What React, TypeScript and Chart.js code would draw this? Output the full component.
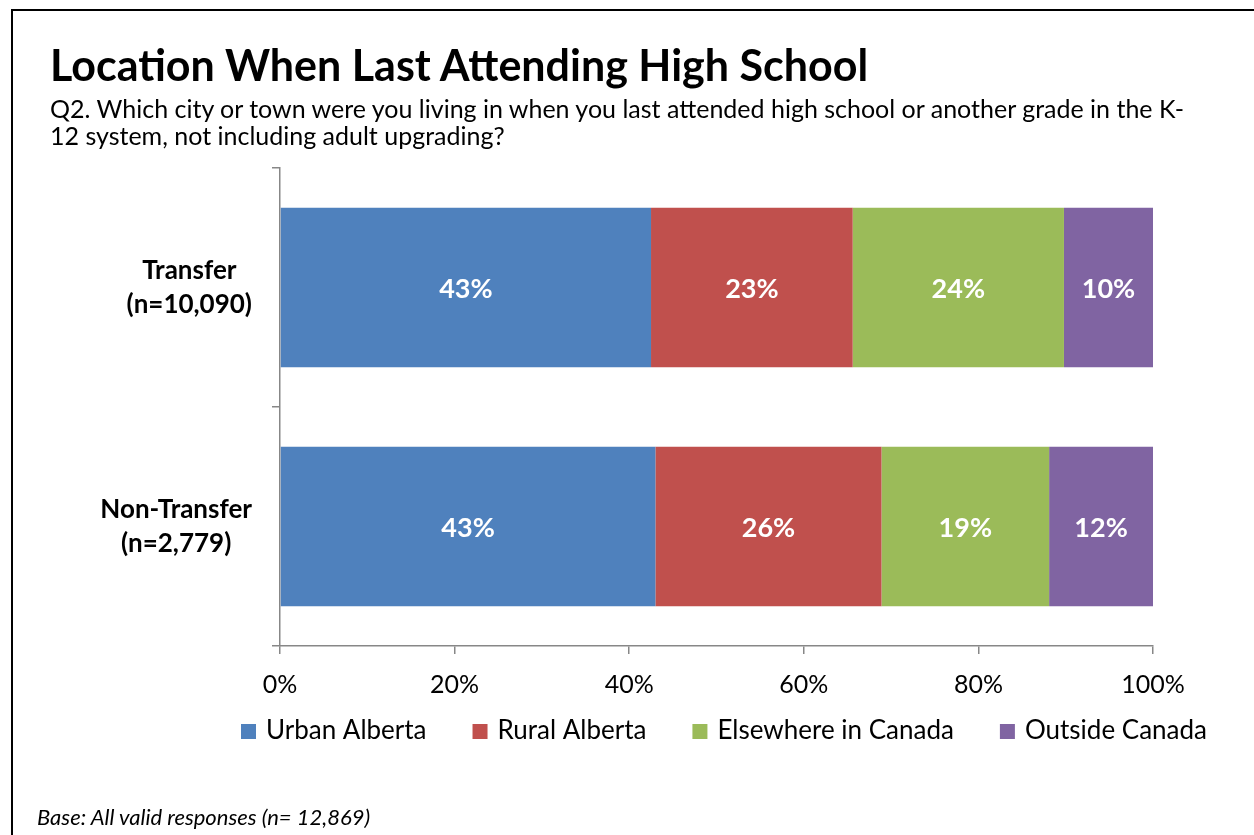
import React, { useEffect, useRef } from 'react';
import { Chart, registerables } from 'chart.js';

Chart.register(...registerables);

const categories: string[][] = [
  ['Transfer', '(n=10,090)'],
  ['Non-Transfer', '(n=2,779)'],
];
const seriesNames = ['Urban Alberta', 'Rural Alberta', 'Elsewhere in Canada', 'Outside Canada'];
const urbanAlberta = [42.5, 43.0];
const ruralAlberta = [23.1, 25.9];
const elsewhereInCanada = [24.2, 19.2];
const outsideCanada = [10.2, 11.9];
const seriesColors = ['#4F81BD', '#C0504D', '#9BBB59', '#8064A2'];
const xTickValues = [0, 20, 40, 60, 80, 100];

const FONT = 'Lato, "Open Sans", sans-serif';
const AXIS_COLOR = '#878787';

const dataLabelPlugin = {
  id: 'barValueLabels',
  afterDatasetsDraw(chart: any) {
    const ctx = chart.ctx;
    ctx.save();
    ctx.font = `bold 27px ${FONT}`;
    ctx.fillStyle = '#FFFFFF';
    ctx.textAlign = 'center';
    ctx.textBaseline = 'middle';
    chart.data.datasets.forEach((ds: any, di: number) => {
      const meta = chart.getDatasetMeta(di);
      meta.data.forEach((bar: any, i: number) => {
        const v = ds.data[i];
        const cx = (bar.x + bar.base) / 2;
        ctx.fillText(`${Math.round(v)}%`, cx, bar.y + 2);
      });
    });
    ctx.restore();
  },
};

const categoryLabelPlugin = {
  id: 'categoryLabels',
  afterDraw(chart: any) {
    const ctx = chart.ctx;
    const yScale = chart.scales.y;
    ctx.save();
    ctx.font = `bold 26px ${FONT}`;
    ctx.fillStyle = '#000000';
    ctx.textAlign = 'center';
    ctx.textBaseline = 'middle';
    const rightEdge = yScale.right - 28;
    const lineGap = 34;
    categories.forEach((lines, i) => {
      const yc = yScale.getPixelForValue(i);
      const blockW = Math.max(...lines.map((l) => ctx.measureText(l).width));
      const cx = rightEdge - blockW / 2;
      lines.forEach((l, li) => {
        const y = yc + (li - (lines.length - 1) / 2) * lineGap;
        ctx.fillText(l, cx, y);
      });
    });
    ctx.restore();
  },
};

const legendPlugin = {
  id: 'bottomLegend',
  afterDraw(chart: any) {
    const ctx = chart.ctx;
    ctx.save();
    ctx.font = `26px ${FONT}`;
    ctx.textAlign = 'left';
    ctx.textBaseline = 'alphabetic';
    const box = 15;
    const textGap = 10;
    const itemGap = 46;
    const baseline = 739;
    let x = 241;
    chart.data.datasets.forEach((ds: any) => {
      ctx.fillStyle = ds.backgroundColor;
      ctx.fillRect(x, baseline - box, box, box);
      ctx.fillStyle = '#000000';
      const tx = x + box + textGap;
      ctx.fillText(ds.label, tx, baseline);
      x = tx + ctx.measureText(ds.label).width + itemGap;
    });
    ctx.restore();
  },
};

export default function App() {
  const canvasRef = useRef<HTMLCanvasElement | null>(null);

  useEffect(() => {
    const canvas = canvasRef.current;
    if (!canvas) return;
    const seriesValues = [urbanAlberta, ruralAlberta, elsewhereInCanada, outsideCanada];
    const chart = new Chart(canvas, {
      type: 'bar',
      data: {
        labels: categories.map((c) => c.join(' ')),
        datasets: seriesNames.map((name, i) => ({
          label: name,
          data: seriesValues[i],
          backgroundColor: seriesColors[i],
          borderWidth: 0,
          barPercentage: 0.667,
          categoryPercentage: 1,
        })),
      },
      options: {
        indexAxis: 'y',
        responsive: false,
        animation: false,
        devicePixelRatio: 1,
        layout: { padding: { top: 168, right: 101, left: 0, bottom: 129 } },
        scales: {
          x: {
            stacked: true,
            min: 0,
            max: 100,
            afterBuildTicks: (scale: any) => {
              scale.ticks = xTickValues.map((v) => ({ value: v }));
            },
            afterFit: (scale: any) => {
              scale.height = 60;
            },
            grid: {
              display: true,
              drawOnChartArea: false,
              drawTicks: true,
              tickLength: 8,
              color: AXIS_COLOR,
              lineWidth: 1.5,
            },
            border: { display: true, color: AXIS_COLOR, width: 1.5 },
            ticks: {
              font: { family: FONT, size: 25 },
              color: '#000000',
              padding: 16,
              maxRotation: 0,
              autoSkip: false,
              callback: (v: any) => `${v}%`,
            },
          },
          y: {
            stacked: true,
            afterFit: (scale: any) => {
              scale.width = 280;
            },
            grid: {
              display: true,
              drawOnChartArea: false,
              drawTicks: true,
              tickLength: 8,
              offset: true,
              color: AXIS_COLOR,
              lineWidth: 1.5,
            },
            border: { display: true, color: AXIS_COLOR, width: 1.5 },
            ticks: { display: false },
          },
        },
        plugins: {
          legend: { display: false },
          title: { display: false },
          tooltip: { enabled: false },
        },
      },
      plugins: [dataLabelPlugin, categoryLabelPlugin, legendPlugin],
    } as any);
    return () => chart.destroy();
  }, []);

  return (
    <div
      style={{
        position: 'fixed',
        left: 0,
        top: 0,
        width: 1254,
        height: 835,
        background: '#FFFFFF',
        overflow: 'hidden',
        fontFamily: FONT,
        color: '#000000',
      }}
    >
      <div
        style={{
          position: 'absolute',
          left: 11,
          top: 9,
          width: 1400,
          height: 1000,
          borderLeft: '2px solid #000',
          borderTop: '2px solid #000',
        }}
      />
      <canvas
        ref={canvasRef}
        width={1254}
        height={835}
        style={{ position: 'absolute', left: 0, top: 0, width: 1254, height: 835 }}
      />
      <div
        style={{
          position: 'absolute',
          left: 50,
          top: 40,
          fontSize: 43,
          fontWeight: 700,
          lineHeight: '50px',
          whiteSpace: 'nowrap',
        }}
      >
        Location When Last Attending High School
      </div>
      <div
        style={{
          position: 'absolute',
          left: 50,
          top: 95,
          fontSize: 25,
          lineHeight: '27px',
          whiteSpace: 'nowrap',
        }}
      >
        Q2. Which city or town were you living in when you last attended high school or another grade in the K-
        <br />
        12 system, not including adult upgrading?
      </div>
      <div
        style={{
          position: 'absolute',
          left: 37,
          top: 804,
          fontSize: 22,
          fontStyle: 'italic',
          lineHeight: '26px',
          whiteSpace: 'nowrap',
        }}
      >
        Base: All valid responses (n= 12,869)
      </div>
    </div>
  );
}
